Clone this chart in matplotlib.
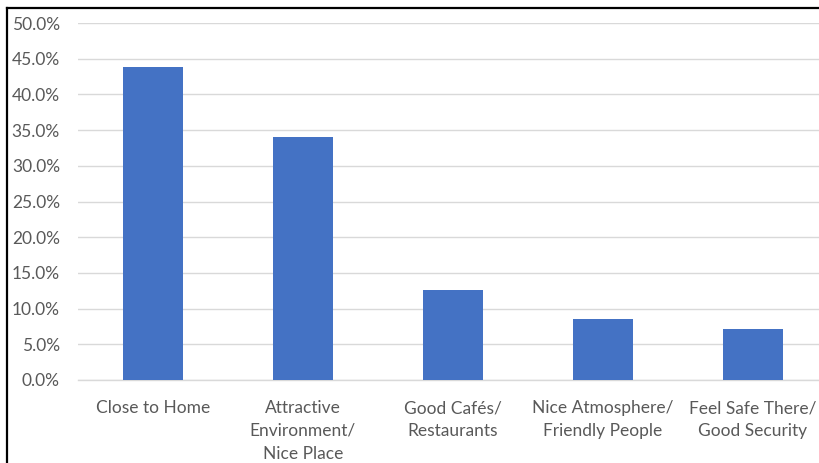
import matplotlib.pyplot as plt
from matplotlib.lines import Line2D
from matplotlib.ticker import FuncFormatter, MultipleLocator

# reasons for visiting, share of respondents (%)
categories = ['Close to Home',
              'Attractive\nEnvironment/\nNice Place',
              'Good Cafés/\nRestaurants',
              'Nice Atmosphere/\nFriendly People',
              'Feel Safe There/\nGood Security']
shares = [43.9, 34.0, 12.6, 8.6, 7.2]

plt.rcParams['font.family'] = ['Lato', 'DejaVu Sans']
txt = '#595959'

fig = plt.figure(figsize=(8.2, 4.63), dpi=100)
W, H = 820, 463
# axes placed in pixels: left 78, right 828 (runs past the edge), y 23..380
ax = fig.add_axes([78 / W, 1 - 380 / H, 750 / W, 357 / H])

x = range(len(categories))
ax.bar(x, shares, width=0.4, color='#4472C4', zorder=3)

ax.set_xlim(-0.5, len(categories) - 0.5)
ax.set_ylim(0, 50)
ax.yaxis.set_major_locator(MultipleLocator(5))
ax.yaxis.set_major_formatter(FuncFormatter(lambda v, p: '%.1f%%' % v))
ax.grid(axis='y', color='#d9d9d9', linewidth=1.0, zorder=0)

ax.set_xticks(list(x))
ax.set_xticklabels(categories, linespacing=1.52, va='top')
ax.tick_params(axis='both', length=0, labelsize=12.5, colors=txt)
ax.tick_params(axis='y', pad=13)
ax.tick_params(axis='x', pad=14.5)

for s in ['top', 'right', 'left']:
    ax.spines[s].set_visible(False)
ax.spines['bottom'].set_color('#d9d9d9')
ax.spines['bottom'].set_linewidth(1.0)

# black frame on top and left edges
fig.add_artist(Line2D([7 / W, 7 / W], [0, 1 - 8 / H], color='black', lw=1.6,
                      transform=fig.transFigure))
fig.add_artist(Line2D([7 / W, 1], [1 - 8 / H, 1 - 8 / H], color='black', lw=1.6,
                      transform=fig.transFigure))

fig.savefig('out.png', dpi=100)
